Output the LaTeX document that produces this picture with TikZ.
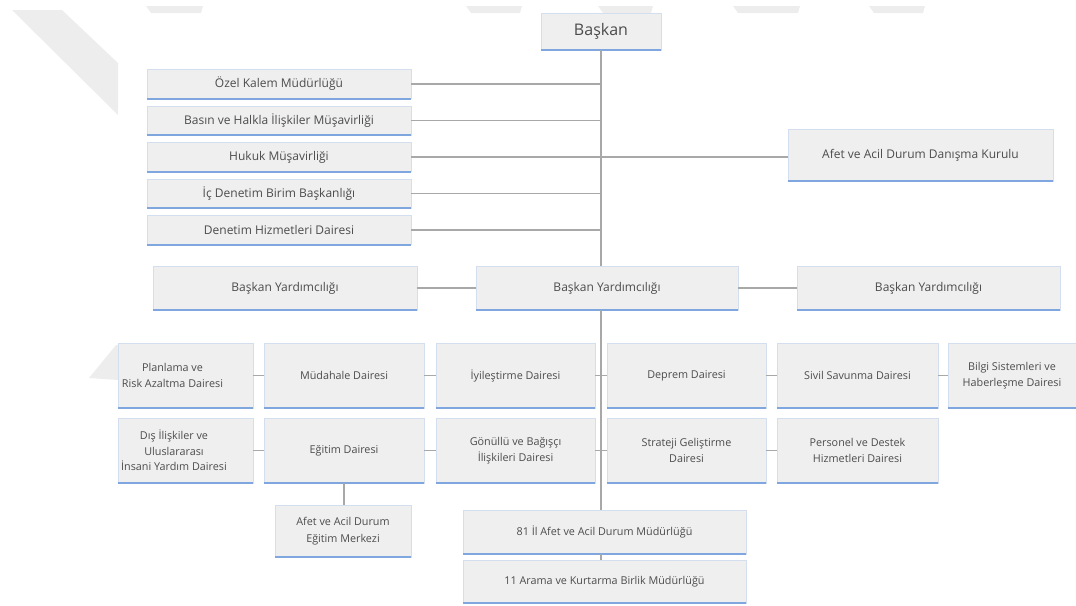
\documentclass[tikz,border=0pt]{standalone}
\usepackage{fontspec}
\setmainfont{Open Sans}
\definecolor{boxfill}{HTML}{EFEFEF}
\definecolor{boxedge}{HTML}{D3DEEE}
\definecolor{bline}{HTML}{7FA6DE}
\definecolor{conn}{HTML}{A8A8A8}
\definecolor{txt}{HTML}{4C4C4C}
\definecolor{wmark}{HTML}{EDEDED}
\tikzset{
  box/.style={fill=boxfill, draw=boxedge, line width=0.5pt, inner sep=1pt,
    align=center, text=txt,
    append after command={(\tikzlastnode.south west) edge[bl] (\tikzlastnode.south east)}},
  bl/.style={draw=bline, line width=1.6pt},
  lbl/.style={align=center, text=txt, inner sep=0pt},
  conline/.style={draw=conn, line width=1.3pt},
  fbig/.style={font=\fontsize{16}{19}\selectfont},
  fmid/.style={font=\fontsize{12}{15}\selectfont},
  fsm/.style={font=\fontsize{10.8}{15.5}\selectfont},
  wm/.style={fill=wmark, draw=none}
}
\begin{document}
\begin{tikzpicture}[x=1pt,y=-1pt]
\useasboundingbox (0,0) rectangle (1076,605);
\clip (0,0) rectangle (1076,605);
% faint watermark shapes
\fill[wm] (12,10) -- (62,10) -- (118,63) -- (118,115) -- cycle;
\fill[wm] (89,378) -- (116,345) -- (118,345) -- (118,380) -- cycle;
\foreach \a/\b in {146/203, 466/522, 598/653, 733/800, 869/925}{
  \fill[wm] (\a,6) -- (\b,6) -- (\b-2,13) -- (\a+5,13) -- cycle;
}
% top
\node[box, fbig, minimum width=120, minimum height=37] (baskan) at (601,31.5) {Başkan};
\node[box, fmid, minimum width=264, minimum height=29] (k1) at (279,84) {Özel Kalem Müdürlüğü};
\node[box, fmid, minimum width=264, minimum height=29] (k2) at (279,120.5) {Basın ve Halkla İlişkiler Müşavirliği};
\node[box, fmid, minimum width=264, minimum height=29] (k3) at (279,157) {Hukuk Müşavirliği};
\node[box, fmid, minimum width=264, minimum height=29] (k4) at (279,193.5) {İç Denetim Birim Başkanlığı};
\node[box, fmid, minimum width=264, minimum height=29] (k5) at (279,230) {Denetim Hizmetleri Dairesi};
\node[box, fmid, minimum width=265, minimum height=52] (kurul) at (920.5,155) {Afet ve Acil Durum Danışma Kurulu};
% vice presidents
\node[box, fmid, minimum width=264, minimum height=44] (vpl) at (285,288) {Başkan Yardımcılığı};
\node[box, fmid, minimum width=262, minimum height=44] (vpc) at (607,288) {Başkan Yardımcılığı};
\node[box, fmid, minimum width=263, minimum height=44] (vpr) at (928.5,288) {Başkan Yardımcılığı};
% row 1
\node[box, minimum width=135, minimum height=65] (r1c1) at (185.5,375.5) {};
\node[lbl, fsm] (r1c1t) at (172.5,375.5) {Planlama ve\\Risk Azaltma Dairesi};
\node[box, fsm, minimum width=160, minimum height=65] (r1c2) at (344,375.5) {Müdahale Dairesi};
\node[box, fsm, minimum width=159, minimum height=65] (r1c3) at (515.5,375.5) {İyileştirme Dairesi};
\node[box, fsm, minimum width=159, minimum height=65] (r1c4) at (686.5,375.5) {Deprem Dairesi};
\node[box, fsm, minimum width=161, minimum height=65] (r1c5) at (857.5,375.5) {Sivil Savunma Dairesi};
\node[box, minimum width=146, minimum height=65] (r1c6) at (1021,375.5) {};
\node[lbl, fsm] (r1c6t) at (1012,375.5) {Bilgi Sistemleri ve\\Haberleşme Dairesi};
% row 2
\node[box, minimum width=135, minimum height=65] (r2c1) at (185.5,450.5) {};
\node[lbl, fsm] (r2c1t) at (174,450.5) {Dış İlişkiler ve\\Uluslararası\\İnsani Yardım Dairesi};
\node[box, fsm, minimum width=160, minimum height=65] (r2c2) at (344,450.5) {Eğitim Dairesi};
\node[box, fsm, minimum width=159, minimum height=65] (r2c3) at (515.5,450.5) {Gönüllü ve Bağışçı\\İlişkileri Dairesi};
\node[box, fsm, minimum width=159, minimum height=65] (r2c4) at (686.5,450.5) {Strateji Geliştirme\\Dairesi};
\node[box, fsm, minimum width=161, minimum height=65] (r2c5) at (857.5,450.5) {Personel ve Destek\\Hizmetleri Dairesi};
% bottom
\node[box, minimum width=136, minimum height=52, font=\fontsize{10.8}{17}\selectfont] (merkez) at (343,531) {Afet ve Acil Durum\\Eğitim Merkezi};
\node[box, fsm, minimum width=283, minimum height=44] (il81) at (604.5,532) {81 İl Afet ve Acil Durum Müdürlüğü};
\node[box, fsm, minimum width=283, minimum height=43] (arama) at (604.5,581.5) {11 Arama ve Kurtarma Birlik Müdürlüğü};
% connectors
\draw[conline] (baskan.south) -- (baskan.south |- vpc.north);
\foreach \k in {k1,k2,k4,k5}{
  \draw[conline] (\k.east) -- (\k.east -| baskan.south);
}
\draw[conline] (k3.east) -- (k3.east -| kurul.west);
\draw[conline] (vpl.east) -- (vpc.west);
\draw[conline] (vpc.east) -- (vpr.west);
\draw[conline] (vpc.south -| baskan.south) -- (il81.north -| baskan.south);
\draw[conline] (il81.south -| baskan.south) -- (arama.north -| baskan.south);
\draw[conline] (r1c1.east) -- (r1c2.west);
\draw[conline] (r1c2.east) -- (r1c3.west);
\draw[conline] (r1c3.east) -- (r1c4.west);
\draw[conline] (r1c4.east) -- (r1c5.west);
\draw[conline] (r1c5.east) -- (r1c6.west);
\draw[conline] (r2c1.east) -- (r2c2.west);
\draw[conline] (r2c2.east) -- (r2c3.west);
\draw[conline] (r2c3.east) -- (r2c4.west);
\draw[conline] (r2c4.east) -- (r2c5.west);
\draw[conline] (r2c2.south) -- (r2c2.south |- merkez.north);
\end{tikzpicture}
\end{document}
